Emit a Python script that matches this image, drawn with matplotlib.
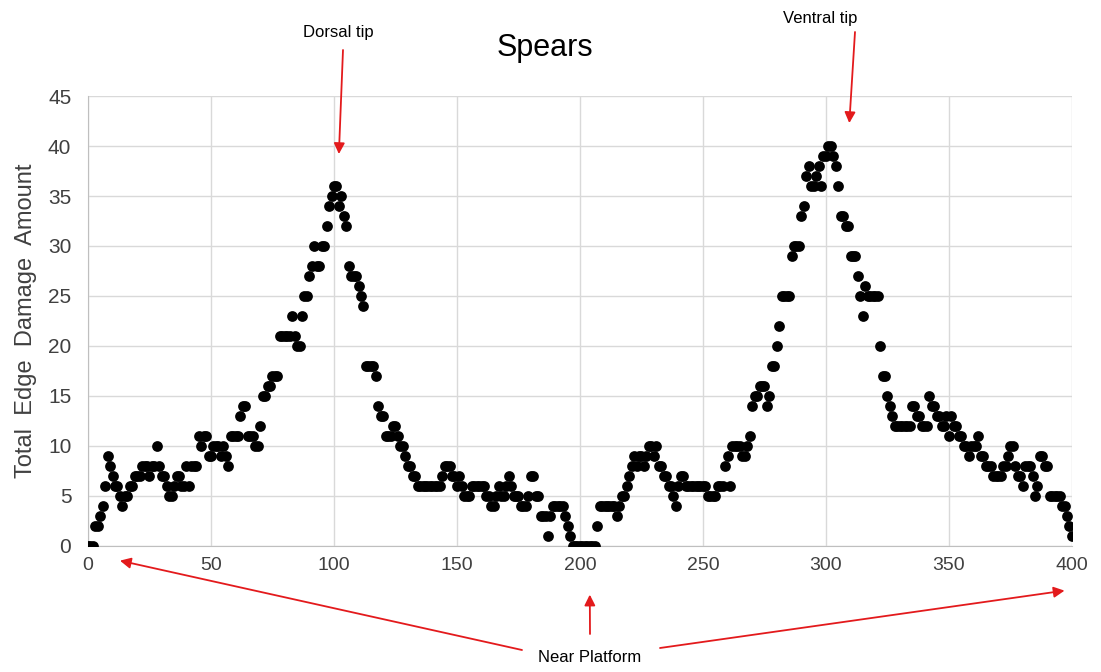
import matplotlib.pyplot as plt

# edge damage counts along the spear outline, one value per position
dorsal_half = [0, 0, 0, 2, 2, 3, 4, 6, 9, 8,
               7, 6, 6, 5, 4, 5, 5, 6, 6, 7,
               7, 7, 8, 8, 8, 7, 8, 8, 10, 8,
               7, 7, 6, 5, 5, 6, 7, 7, 6, 6,
               8, 6, 8, 8, 8, 11, 10, 11, 11, 9,
               9, 10, 10, 10, 9, 10, 9, 8, 11, 11,
               11, 11, 13, 14, 14, 11, 11, 11, 10, 10,
               12, 15, 15, 16, 16, 17, 17, 17, 21, 21,
               21, 21, 21, 23, 21, 20, 20, 23, 25, 25,
               27, 28, 30, 28, 28, 30, 30, 32, 34, 35,
               36, 36, 34, 35, 33, 32, 28, 27, 27, 27,
               26, 25, 24, 18, 18, 18, 18, 17, 14, 13,
               13, 11, 11, 11, 12, 12, 11, 10, 10, 9,
               8, 8, 7, 7, 6, 6, 6, 6, 6, 6,
               6, 6, 6, 6, 7, 8, 8, 8, 7, 7,
               6, 7, 6, 5, 5, 5, 6, 6, 6, 6,
               6, 6, 5, 5, 4, 4, 5, 6, 5, 5,
               6, 7, 6, 5, 5, 5, 4, 4, 4, 5,
               7, 7, 5, 5, 3, 3, 3, 1, 3, 4,
               4, 4, 4, 4, 3, 2, 1, 0, 0, 0,
               0]
ventral_half = [0, 0, 0, 0, 0, 0, 2, 4, 4,
                4, 4, 4, 4, 4, 3, 4, 5, 5, 6,
                7, 8, 9, 8, 9, 9, 8, 9, 10, 10,
                9, 10, 8, 8, 7, 7, 6, 6, 5, 4,
                6, 7, 7, 6, 6, 6, 6, 6, 6, 6,
                6, 6, 5, 5, 5, 5, 6, 6, 6, 8,
                9, 6, 10, 10, 10, 10, 9, 9, 10, 11,
                14, 15, 15, 16, 16, 16, 14, 15, 18, 18,
                20, 22, 25, 25, 25, 25, 29, 30, 30, 30,
                33, 34, 37, 38, 36, 36, 37, 38, 36, 39,
                39, 40, 40, 39, 38, 36, 33, 33, 32, 32,
                29, 29, 29, 27, 25, 23, 26, 25, 25, 25,
                25, 25, 20, 17, 17, 15, 14, 13, 12, 12,
                12, 12, 12, 12, 12, 14, 14, 13, 13, 12,
                12, 12, 15, 14, 14, 13, 13, 12, 12, 13,
                11, 13, 12, 12, 11, 11, 10, 10, 9, 10,
                10, 10, 11, 9, 9, 8, 8, 8, 7, 7,
                7, 7, 8, 8, 9, 10, 10, 8, 7, 7,
                6, 8, 8, 8, 7, 5, 6, 9, 9, 8,
                8, 5, 5, 5, 5, 5, 4, 4, 3, 2, 1]

damage = dorsal_half + ventral_half
position = list(range(len(damage)))

x_ticks = [0, 50, 100, 150, 200, 250, 300, 350, 400]
y_ticks = [0, 5, 10, 15, 20, 25, 30, 35, 40, 45]

plt.rcParams['font.family'] = ['Liberation Sans', 'DejaVu Sans']

fig = plt.figure(figsize=(11.01, 6.72), dpi=100)
ax = fig.add_axes([0.0799, 0.188, 0.8937, 0.669])

ax.scatter(position, damage, s=60, color='black', zorder=3, linewidths=0)

ax.set_xlim(0, 400)
ax.set_ylim(0, 45)
ax.set_xticks(x_ticks)
ax.set_yticks(y_ticks)
ax.grid(True, color='#d9d9d9', linewidth=1)
ax.set_axisbelow(True)
for side in ['top', 'right']:
    ax.spines[side].set_visible(False)
for side in ['left', 'bottom']:
    ax.spines[side].set_color('#bfbfbf')
ax.tick_params(length=0, colors='#404040')
ax.tick_params(axis='x', labelsize=14, pad=8)
ax.tick_params(axis='y', labelsize=15, pad=12)

ax.set_ylabel('Total  Edge  Damage  Amount', fontsize=17, color='#404040', labelpad=8)
fig.text(545, 672 - 48, 'Spears', transform=None, ha='center', va='center', fontsize=22)

red = '#e31a1c'
arrow = dict(arrowstyle='-|>', color=red, lw=1.3, mutation_scale=16, shrinkA=0, shrinkB=0)

fig.text(338, 672 - 33, 'Dorsal tip', transform=None, ha='center', va='center', fontsize=12)
ax.annotate('', xy=(102, 39.2), xytext=(343, 672 - 50), textcoords='figure pixels',
            arrowprops=arrow, annotation_clip=False)
fig.text(820, 672 - 18, 'Ventral tip', transform=None, ha='center', va='center', fontsize=12)
ax.annotate('', xy=(309.5, 42.3), xytext=(855, 672 - 32), textcoords='figure pixels',
            arrowprops=arrow, annotation_clip=False)

# one label with three arrows down to the platform ends and the middle
fig.text(590, 15, 'Near Platform', transform=None, ha='center', va='center', fontsize=12)
for tip, tail in [((13, -1.5), (522, 22)), ((204, -4.9), (590, 38)), ((397, -4.5), (660, 24))]:
    ax.annotate('', xy=tip, xytext=tail, textcoords='figure pixels',
                arrowprops=arrow, annotation_clip=False)

fig.savefig('out.png', dpi=100)
